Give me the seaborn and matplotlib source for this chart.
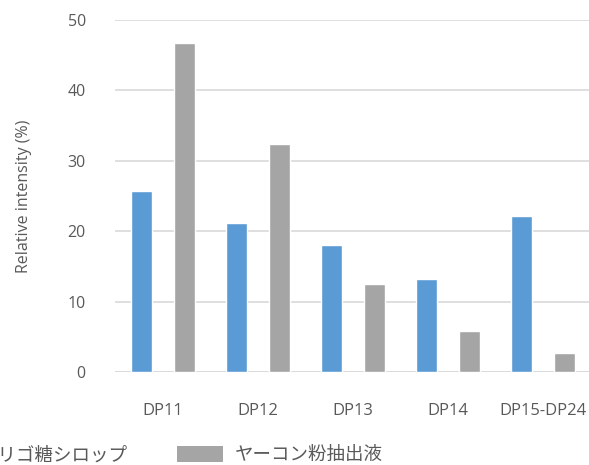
import matplotlib
matplotlib.use("Agg")
import matplotlib.pyplot as plt
import seaborn as sns
import pandas as pd
from matplotlib.patches import Patch

categories = ["DP11", "DP12", "DP13", "DP14", "DP15-DP24"]
syrup = [25.7, 21.1, 18.0, 13.2, 22.1]
yacon = [46.7, 32.4, 12.5, 5.8, 2.7]
series_names = ["オリゴ糖シロップ", "ヤーコン粉抽出液"]
colors = ["#5B9BD5", "#A5A5A5"]
yticks = [0, 10, 20, 30, 40, 50]

df = pd.DataFrame({
    "category": categories * 2,
    "value": syrup + yacon,
    "series": [series_names[0]] * len(categories) + [series_names[1]] * len(categories),
})

sns.set_theme(style="white")
plt.rcParams["font.family"] = ["Open Sans", "Noto Sans CJK JP", "DejaVu Sans"]

fig = plt.figure(figsize=(5.89, 4.65), dpi=100)
ax = fig.add_axes([115 / 589, 1 - 372 / 465, 476 / 589, 352 / 465])

sns.barplot(data=df, x="category", y="value", hue="series", order=categories,
            hue_order=series_names, palette=colors, width=0.9, gap=0.51,
            saturation=1, ax=ax, legend=False)

ax.set_xlim(-0.5, 4.5)
ax.set_ylim(0, 50)
ax.set_yticks(yticks)
ax.yaxis.grid(True, color="#D9D9D9", linewidth=1.2)
ax.set_axisbelow(True)
for s in ax.spines.values():
    s.set_visible(False)
ax.axhline(0, color="#D9D9D9", linewidth=1.2, zorder=0.5)

ax.tick_params(axis="both", length=0, colors="#595959", labelsize=11.5)
ax.tick_params(axis="x", pad=22, labelsize=12)
ax.tick_params(axis="y", pad=21)
ax.set_xlabel("")
ax.set_ylabel("Relative intensity (%)", color="#595959", fontsize=11.5)
ax.yaxis.set_label_coords(-83 / 476, 0.5)

handles = [Patch(facecolor=c, edgecolor="none") for c in colors]
fig.legend(handles, series_names, loc="center left", bbox_to_anchor=(-86 / 589, 1 - 455 / 465),
           ncol=2, frameon=False, fontsize=13.3, handlelength=2.5, handleheight=1.0,
           handletextpad=0.62, columnspacing=2.7, labelcolor="#595959", borderaxespad=0)

fig.savefig("out.png", dpi=100)
